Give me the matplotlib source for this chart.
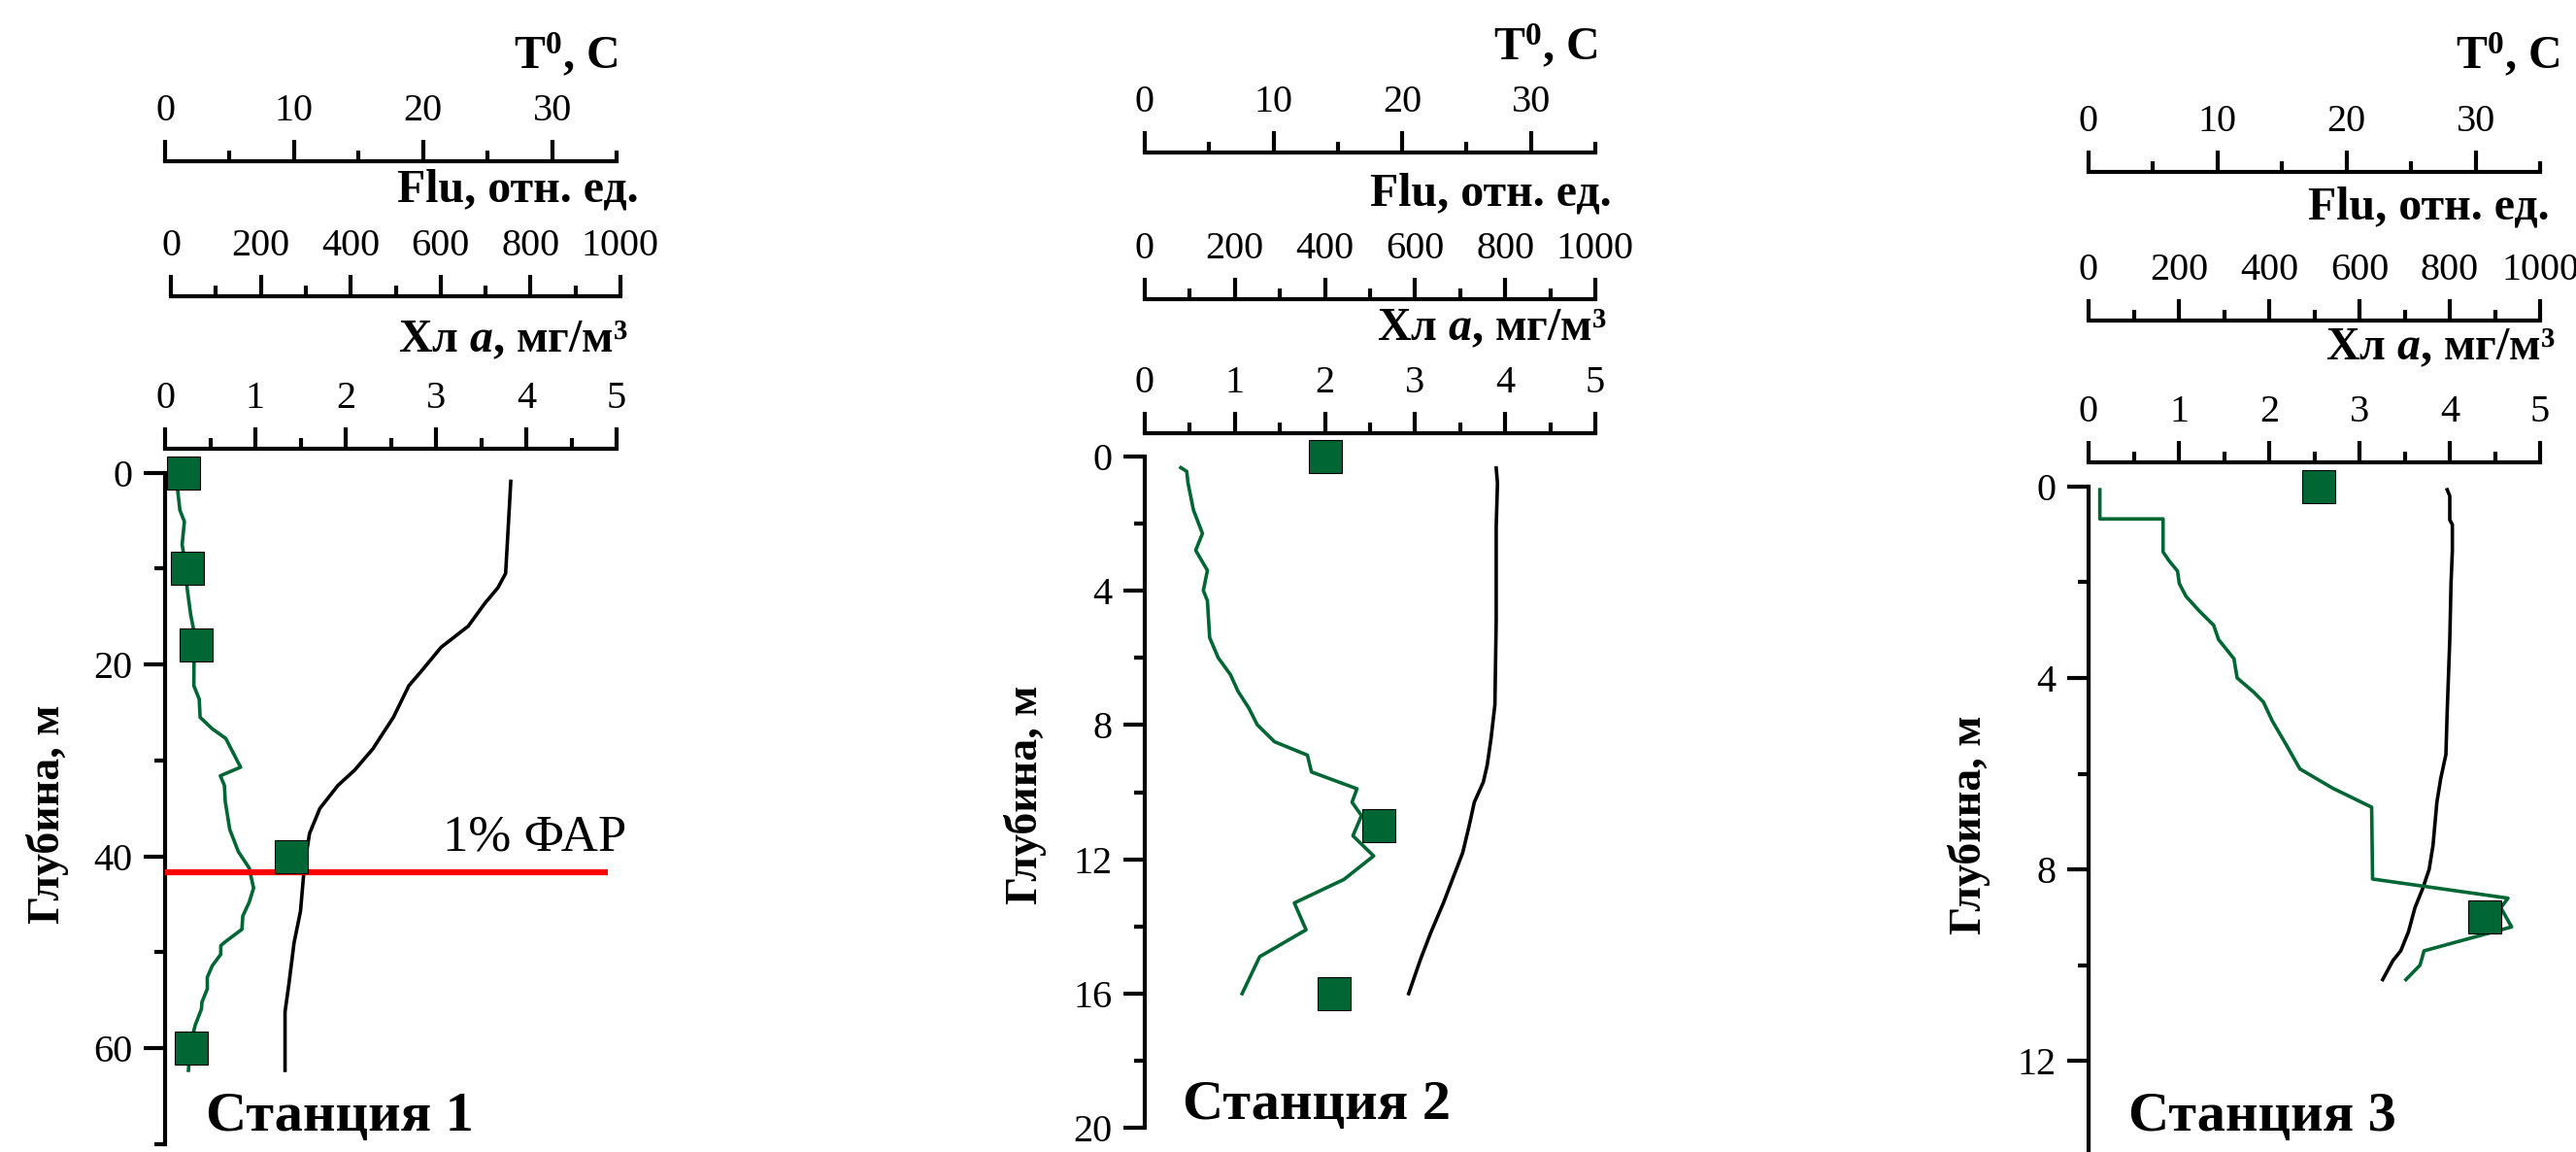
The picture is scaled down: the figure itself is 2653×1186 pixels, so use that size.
import matplotlib.pyplot as plt
from matplotlib.ticker import MultipleLocator

plt.rcParams['font.family'] = ['Liberation Serif', 'DejaVu Serif']
plt.rcParams['mathtext.fontset'] = 'custom'
plt.rcParams['mathtext.rm'] = 'Liberation Serif'
plt.rcParams['mathtext.it'] = 'Liberation Serif:italic:bold'
plt.rcParams['mathtext.bf'] = 'Liberation Serif:bold'

W, H = 2653, 1186
DPI = 100
GREEN = '#006633'

# ---- station 1
st1_t_depth = [0.9, 10.5, 12.0, 13.6, 16.0, 18.2, 20.8, 22.2, 25.5, 28.8, 31.0, 32.6,
               35.0, 37.6, 41.0, 45.7, 49.0, 53.3, 56.2, 62.3]
st1_t = [26.8, 26.4, 25.8, 24.8, 23.5, 21.4, 19.8, 18.9, 17.7, 16.1, 14.7, 13.4,
         12.0, 11.2, 10.8, 10.5, 10.0, 9.6, 9.3, 9.3]
st1_flu_depth = [0.5, 1.8, 3.9, 5.1, 7.5, 10.1, 12.0, 14.8, 16.7, 22.2, 23.6, 25.5, 26.7,
                 27.7, 30.7, 31.6, 32.6, 34.3, 37.2, 39.5, 41.2, 43.3, 44.8, 46.2, 47.6,
                 48.9, 49.3, 50.2, 51.4, 52.6, 53.8, 55.2, 55.9, 57.6, 59.5, 62.3]
st1_flu = [13, 15, 20, 30, 25, 34, 36, 44, 52, 51, 63, 65, 92,
           122, 155, 110, 119, 121, 131, 150, 174, 184, 174, 160, 158,
           121, 111, 111, 92, 81, 81, 69, 68, 54, 44, 39]
st1_chl_depth = [0, 10, 18, 40, 60]
st1_chl = [0.20, 0.25, 0.34, 1.40, 0.29]
st1_par_depth = 41.7

# ---- station 2
st2_t_depth = [0.35, 0.8, 2.1, 4.9, 7.4, 8.4, 9.2, 9.7, 10.3, 11.0, 11.8, 12.3,
               13.3, 14.2, 15.0, 16.0]
st2_t = [27.3, 27.4, 27.3, 27.3, 27.2, 26.9, 26.6, 26.3, 25.6, 25.2, 24.7, 24.2,
         23.2, 22.2, 21.4, 20.5]
st2_flu_depth = [0.34, 0.45, 0.8, 1.6, 2.3, 2.8, 3.4, 4.0, 4.3, 5.4, 6.0, 6.5, 7.0,
                 7.5, 8.0, 8.5, 8.9, 9.4, 9.9, 10.3, 10.7, 11.3, 11.9, 12.6, 13.3,
                 14.1, 14.9, 16.0]
st2_flu = [80, 93, 96, 108, 128, 113, 139, 130, 139, 144, 163, 190, 207,
           231, 250, 288, 361, 370, 471, 460, 481, 462, 508, 442, 332,
           358, 255, 216]
st2_chl_depth = [0, 11, 16]
st2_chl = [2.0, 2.6, 2.1]

# ---- station 3
st3_t_depth = [0.07, 0.2, 0.7, 0.8, 1.35, 2.0, 3.2, 4.7, 5.6, 6.1, 6.6, 7.5, 8.0,
               8.4, 8.8, 9.3, 9.7, 9.9, 10.3]
st3_t = [27.8, 28.0, 28.0, 28.2, 28.2, 28.1, 28.0, 27.8, 27.7, 27.3, 27.0, 26.7, 26.4,
         25.9, 25.3, 24.8, 24.2, 23.6, 22.8]
st3_flu_depth = [0.07, 0.68, 0.68, 1.37, 1.55, 1.77, 2.03, 2.3, 2.6, 2.9, 3.2, 3.6,
                 4.0, 4.3, 4.5, 4.9, 5.4, 5.9, 6.3, 6.7, 8.2, 8.6, 8.8, 9.2, 9.7,
                 10.0, 10.3]
st3_flu = [25, 25, 165, 165, 178, 197, 201, 216, 245, 277, 288, 322,
           329, 366, 387, 407, 438, 468, 540, 627, 629, 929, 913, 937, 743,
           734, 703]
st3_chl_depth = [0, 9]
st3_chl = [2.55, 4.39]

stations = ['Станция 1', 'Станция 2', 'Станция 3']


def rect(l, r, t, b):
    return [l / W, 1 - b / H, (r - l) / W, (b - t) / H]


def top_axis(ax, lim, major, minor, offset):
    ax.set_xlim(lim)
    ax.set_facecolor('none')
    for s in ['right', 'bottom']:
        ax.spines[s].set_visible(False)
    ax.spines['top'].set_position(('outward', offset * 72 / DPI))
    ax.spines['top'].set_linewidth(3)
    ax.xaxis.set_ticks_position('top')
    ax.xaxis.set_major_locator(MultipleLocator(major))
    ax.xaxis.set_minor_locator(MultipleLocator(minor))
    ax.tick_params(axis='x', which='major', direction='out', length=16, width=3,
                   labelsize=29, pad=8, labelfontfamily='Liberation Serif')
    ax.tick_params(axis='x', which='minor', direction='out', length=8, width=3)


def ftext(x, y, s, **kw):
    plt.figtext(x / W, 1 - y / H, s, **kw)


fig = plt.figure(figsize=(W / DPI, H / DPI), dpi=DPI)

# pixel layout of each panel
layout = [
    dict(l=170, r=635, t=486.6, b=1178, fl=176, fr=639, off=(24.6, 181.6, 320.6),
         ymax=70, ymaj=20, ymin=10,
         lab=[(636, 57), (658, 196), (647, 350)], ylab=(49, 838), st=(350, 1150)),
    dict(l=1179, r=1643, t=469.7, b=1161.3, fl=1179, fr=1643, off=(23.7, 161.7, 312.7),
         ymax=20, ymaj=4, ymin=2,
         lab=[(1645, 48), (1660, 199), (1655, 338)], ylab=(1056, 818), st=(1356, 1138)),
    dict(l=2151, r=2616, t=500.7, b=1190.9, fl=2151, fr=2616, off=(24.7, 170.7, 323.7),
         ymax=14, ymaj=4, ymin=2,
         lab=[(2636, 57), (2626, 214), (2632, 358)], ylab=(2028, 849), st=(2330, 1150)),
]

data = [
    (st1_t_depth, st1_t, st1_flu_depth, st1_flu, st1_chl_depth, st1_chl),
    (st2_t_depth, st2_t, st2_flu_depth, st2_flu, st2_chl_depth, st2_chl),
    (st3_t_depth, st3_t, st3_flu_depth, st3_flu, st3_chl_depth, st3_chl),
]

for i in range(3):
    L = layout[i]
    t_d, t_v, f_d, f_v, c_d, c_v = data[i]

    ax_t = fig.add_axes(rect(L['l'], L['r'], L['t'], L['b']))
    top_axis(ax_t, (0, 35), 10, 5, L['off'][2])
    ax_f = fig.add_axes(rect(L['fl'], L['fr'], L['t'], L['b']))
    top_axis(ax_f, (0, 1000), 200, 100, L['off'][1])
    ax_c = fig.add_axes(rect(L['l'], L['r'], L['t'], L['b']))
    top_axis(ax_c, (0, 5), 1, 0.5, L['off'][0])

    for ax in [ax_t, ax_f]:
        ax.spines['left'].set_visible(False)
        ax.set_ylim(L['ymax'], 0)
        ax.set_yticks([])

    ax_c.set_ylim(L['ymax'], 0)
    ax_c.spines['left'].set_linewidth(3)
    ax_c.yaxis.set_major_locator(MultipleLocator(L['ymaj']))
    ax_c.yaxis.set_minor_locator(MultipleLocator(L['ymin']))
    ax_c.tick_params(axis='y', which='major', direction='out', length=16, width=3,
                     labelsize=29, pad=8, labelfontfamily='Liberation Serif')
    ax_c.tick_params(axis='y', which='minor', direction='out', length=8, width=3)

    ax_t.plot(t_v, t_d, color='black', lw=2.6)
    ax_f.plot(f_v, f_d, color=GREEN, lw=2.6)
    ax_c.plot(c_v, c_d, 's', ms=25, mfc=GREEN, mec='black', mew=0.8, clip_on=False,
              zorder=5)

    if i == 0:
        ax_c.hlines(st1_par_depth, 0, 4.9, color='red', lw=4.5, zorder=4)
        ax_c.text(3.08, 38.1, '1% ФАР', fontsize=38, ha='left', va='center')

    labels = ['T$^{\\mathbf{0}}$, C', 'Flu, отн. ед.', 'Хл $a$, мг/м³']
    for (x, y), s in zip(L['lab'], labels):
        ftext(x, y, s, ha='right', va='center', fontsize=34.5, fontweight='bold')
    ftext(L['ylab'][0], L['ylab'][1], 'Глубина, м', rotation=90, ha='center',
          va='center', fontsize=33, fontweight='bold')
    ftext(L['st'][0], L['st'][1], stations[i], ha='center', va='center',
          fontsize=42, fontweight='bold')

plt.savefig('out.png', dpi=DPI)
plt.close()
